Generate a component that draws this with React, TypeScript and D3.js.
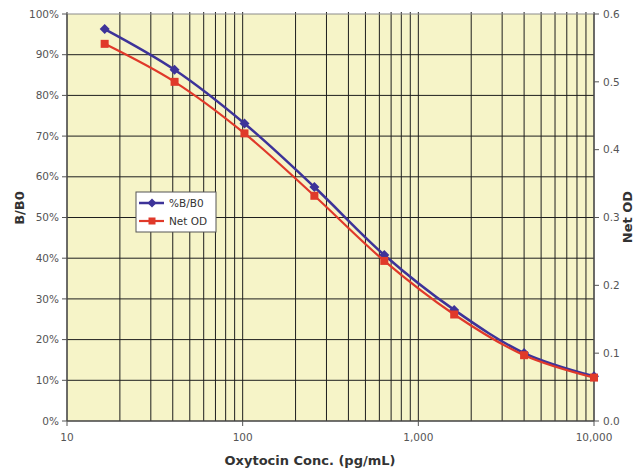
import React from "react";
import * as d3 from "d3";

const concentrations = [16.384, 40.96, 102.4, 256, 640, 1600, 4000, 10000];
const percentBB0 = [96.3, 86.3, 73.1, 57.5, 40.8, 27.3, 16.7, 11.0];
const netOD = [0.556, 0.5, 0.424, 0.332, 0.236, 0.157, 0.097, 0.064];
const leftTicks = [0, 10, 20, 30, 40, 50, 60, 70, 80, 90, 100];
const rightTicks = [0, 0.1, 0.2, 0.3, 0.4, 0.5, 0.6];
const xTicks = [10, 100, 1000, 10000];
const seriesNames = ["%B/B0", "Net OD"];

const W = 639;
const H = 473;
const M = { left: 67, right: 594, top: 14, bottom: 421 };
const FONT = "'DejaVu Sans', Verdana, sans-serif";
const BLUE = "#3d3399";
const RED = "#e0392a";
const GRID = "#1e1e1e";

export default function App() {
  const x = d3.scaleLog().domain([10, 10000]).range([M.left, M.right]);
  const yL = d3.scaleLinear().domain([0, 100]).range([M.bottom, M.top]);
  const yR = d3.scaleLinear().domain([0, 0.6]).range([M.bottom, M.top]);

  const minor: number[] = [];
  for (let dec = 10; dec < 10000; dec *= 10) {
    for (let k = 1; k <= 9; k++) minor.push(dec * k);
  }
  minor.push(10000);

  const lineB = d3
    .line<number>()
    .x((_, i) => x(concentrations[i]))
    .y((d) => yL(d))
    .curve(d3.curveCatmullRom.alpha(0.5));
  const lineR = d3
    .line<number>()
    .x((_, i) => x(concentrations[i]))
    .y((d) => yR(d))
    .curve(d3.curveCatmullRom.alpha(0.5));

  const diamond = (cx: number, cy: number, r: number) =>
    `M${cx},${cy - r}L${cx + r},${cy}L${cx},${cy + r}L${cx - r},${cy}Z`;

  const lg = { x: 136, y: 192, w: 80, h: 40 };

  return (
    <svg width={W} height={H} style={{ position: "absolute", left: 0, top: 0, background: "#fff" }}>
      <rect x={M.left} y={M.top} width={M.right - M.left} height={M.bottom - M.top} fill="#f6f4c8" />
      {/* vertical grid (slightly above the top border) */}
      {minor.map((v) => (
        <line key={"v" + v} x1={x(v)} x2={x(v)} y1={M.top - 2} y2={M.bottom} stroke={GRID} strokeWidth={1} />
      ))}
      {/* horizontal grid */}
      {leftTicks.map((t) => (
        <line key={"h" + t} x1={M.left} x2={M.right} y1={yL(t)} y2={yL(t)} stroke={t === 100 ? "#8a8a8a" : GRID} strokeWidth={1} />
      ))}
      {/* axes */}
      <line x1={M.left} x2={M.left} y1={M.top} y2={M.bottom} stroke="#555" strokeWidth={1.2} />
      <line x1={M.right} x2={M.right} y1={M.top} y2={M.bottom} stroke="#555" strokeWidth={1.2} />
      <line x1={M.left} x2={M.right} y1={M.bottom} y2={M.bottom} stroke="#555" strokeWidth={1.2} />
      {leftTicks.map((t) => (
        <g key={"lt" + t}>
          <line x1={M.left - 5} x2={M.left} y1={yL(t)} y2={yL(t)} stroke="#555" />
          <text x={M.left - 8} y={yL(t)} dy="0.35em" textAnchor="end" fontFamily={FONT} fontSize={10.5} fill="#555">
            {t + "%"}
          </text>
        </g>
      ))}
      {rightTicks.map((t) => (
        <g key={"rt" + t}>
          <line x1={M.right} x2={M.right + 5} y1={yR(t)} y2={yR(t)} stroke="#555" />
          <text x={M.right + 9} y={yR(t)} dy="0.35em" textAnchor="start" fontFamily={FONT} fontSize={10.5} fill="#555">
            {t.toFixed(1)}
          </text>
        </g>
      ))}
      {xTicks.map((t) => (
        <g key={"xt" + t}>
          <line x1={x(t)} x2={x(t)} y1={M.bottom} y2={M.bottom + 5} stroke="#555" />
          <text x={x(t)} y={M.bottom + 20} textAnchor="middle" fontFamily={FONT} fontSize={10.5} fill="#555">
            {d3.format(",")(t)}
          </text>
        </g>
      ))}
      <text x={310} y={M.bottom + 44} textAnchor="middle" fontFamily={FONT} fontWeight="bold" fontSize={13} fill="#333">
        Oxytocin Conc. (pg/mL)
      </text>
      <text transform={`translate(24,208) rotate(-90)`} textAnchor="middle" fontFamily={FONT} fontWeight="bold" fontSize={13} fill="#333">
        B/B0
      </text>
      <text transform={`translate(632,217) rotate(-90)`} textAnchor="middle" fontFamily={FONT} fontWeight="bold" fontSize={13} fill="#333">
        Net OD
      </text>
      {/* series */}
      <path d={lineB(percentBB0) || ""} fill="none" stroke={BLUE} strokeWidth={2.5} />
      {percentBB0.map((v, i) => (
        <path key={"bm" + i} d={diamond(x(concentrations[i]), yL(v), 5)} fill={BLUE} />
      ))}
      <path d={lineR(netOD) || ""} fill="none" stroke={RED} strokeWidth={2.2} />
      {netOD.map((v, i) => (
        <rect key={"rm" + i} x={x(concentrations[i]) - 4} y={yR(v) - 4} width={8} height={8} fill={RED} />
      ))}
      {/* legend */}
      <rect x={lg.x} y={lg.y} width={lg.w} height={lg.h} fill="#fff" stroke="#555" strokeWidth={1} />
      <line x1={lg.x + 3} x2={lg.x + 28} y1={lg.y + 11} y2={lg.y + 11} stroke={BLUE} strokeWidth={2.5} />
      <path d={diamond(lg.x + 16, lg.y + 11, 4.5)} fill={BLUE} />
      <text x={lg.x + 33} y={lg.y + 11} dy="0.35em" fontFamily={FONT} fontSize={10.5} fill="#333">
        {seriesNames[0]}
      </text>
      <line x1={lg.x + 3} x2={lg.x + 28} y1={lg.y + 29} y2={lg.y + 29} stroke={RED} strokeWidth={2.2} />
      <rect x={lg.x + 12.5} y={lg.y + 25.5} width={7} height={7} fill={RED} />
      <text x={lg.x + 33} y={lg.y + 29} dy="0.35em" fontFamily={FONT} fontSize={10.5} fill="#333">
        {seriesNames[1]}
      </text>
    </svg>
  );
}
